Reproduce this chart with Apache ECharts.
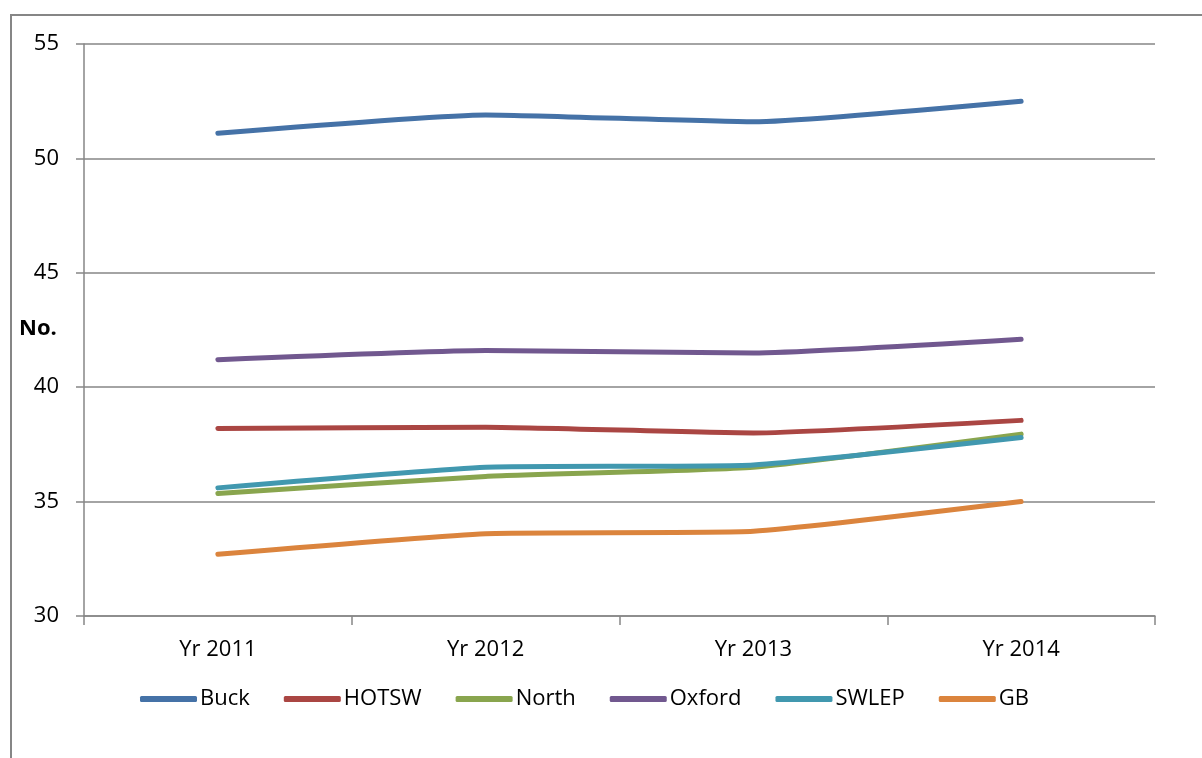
<!DOCTYPE html>
<html>
<head>
<meta charset="utf-8">
<script src="https://cdn.jsdelivr.net/npm/echarts@6/dist/echarts.min.js"></script>
<style>
  html, body { margin: 0; padding: 0; background: #fff; }
  #chart { width: 1202px; height: 758px; }
</style>
</head>
<body>
<div id="chart"></div>
<script>
// Categories and series values
const years = ['Yr 2011', 'Yr 2012', 'Yr 2013', 'Yr 2014'];
const buck  = [51.1, 51.9, 51.6, 52.5];
const hotsw = [38.2, 38.25, 38.0, 38.55];
const north = [35.35, 36.1, 36.5, 37.95];
const oxford = [41.2, 41.6, 41.5, 42.1];
const swlep = [35.6, 36.5, 36.6, 37.8];
const gb    = [32.7, 33.6, 33.7, 35.0];
const yTicks = [30, 35, 40, 45, 50, 55];

const FONT = '"Open Sans", "Noto Sans", sans-serif';
const FS = 22;
const GREY = '#868686';

const seriesDefs = [
  { name: 'Buck', data: buck, color: '#4572A7' },
  { name: 'HOTSW', data: hotsw, color: '#AA4643' },
  { name: 'North', data: north, color: '#89A54E' },
  { name: 'Oxford', data: oxford, color: '#71588F' },
  { name: 'SWLEP', data: swlep, color: '#4198AF' },
  { name: 'GB', data: gb, color: '#DB843D' }
];

const chart = echarts.init(document.getElementById('chart'), null, { renderer: 'canvas' });

chart.setOption({
  animation: false,
  backgroundColor: '#fff',
  textStyle: { fontFamily: FONT },
  grid: { left: 84, right: 47, top: 44, bottom: 142, containLabel: false },
  xAxis: {
    type: 'category',
    data: years,
    boundaryGap: true,
    axisLine: { lineStyle: { color: GREY, width: 1.5 } },
    axisTick: { show: true, length: 9, alignWithLabel: false, lineStyle: { color: GREY, width: 1.5 } },
    axisLabel: { color: '#000', fontSize: FS, margin: 23, fontFamily: FONT }
  },
  yAxis: {
    type: 'value',
    min: yTicks[0],
    max: yTicks[yTicks.length - 1],
    interval: 5,
    axisLine: { show: true, lineStyle: { color: GREY, width: 1.5 } },
    axisTick: { show: true, length: 8, lineStyle: { color: GREY, width: 1.5 } },
    axisLabel: { color: '#000', fontSize: FS, margin: 25, fontFamily: FONT },
    splitLine: { show: true, lineStyle: { color: GREY, width: 1.5 } }
  },
  legend: {
    top: 683,
    left: 135,
    itemWidth: 57,
    itemHeight: 6,
    itemGap: 34,
    textStyle: { color: '#000', fontSize: FS, fontFamily: FONT, padding: [0, 0, 0, -2] },
    data: seriesDefs.map(s => ({ name: s.name, icon: 'roundRect' }))
  },
  graphic: [
    {
      type: 'rect',
      shape: { x: 11, y: 15, width: 1300, height: 900 },
      style: { fill: 'none', stroke: GREY, lineWidth: 2 },
      silent: true
    },
    {
      type: 'text',
      left: 19,
      top: 318,
      style: { text: 'No.', fontSize: FS, fontWeight: 'bold', fill: '#000', fontFamily: FONT }
    }
  ],
  series: seriesDefs.map(s => ({
    name: s.name,
    type: 'line',
    data: s.data,
    color: s.color,
    symbol: 'none',
    smooth: 0.15,
    lineStyle: { width: 5, color: s.color, cap: 'round', join: 'round' }
  }))
});
</script>
</body>
</html>
